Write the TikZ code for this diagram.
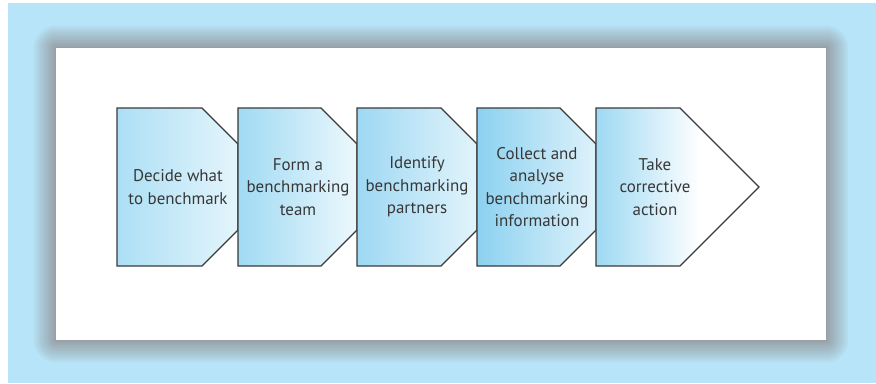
\documentclass[tikz,border=0pt]{standalone}
\usepackage{fontspec}
\setmainfont{PT Sans}
\definecolor{bgblue}{RGB}{183,228,248}
\definecolor{shadowgray}{RGB}{148,148,152}
\definecolor{edge}{RGB}{58,58,58}
\definecolor{txt}{RGB}{55,55,55}
\definecolor{cA}{RGB}{172,223,245}
\definecolor{cAr}{RGB}{228,245,252}
\definecolor{cB}{RGB}{160,218,243}
\definecolor{cBr}{RGB}{236,248,253}
\definecolor{cC}{RGB}{158,216,243}
\definecolor{cCr}{RGB}{226,244,251}
\definecolor{cD}{RGB}{140,209,240}
\definecolor{cDr}{RGB}{222,242,251}
\definecolor{cE}{RGB}{158,217,243}
\pgfdeclarehorizontalshading{lastshade}{100bp}{color(0bp)=(cE); color(25bp)=(cE); color(57bp)=(white); color(100bp)=(white)}
\tikzset{
  stepshape/.style={draw=edge, line width=1.3bp, line join=miter},
  steptext/.style={text=txt, align=center, font=\fontsize{17}{22.5}\selectfont, inner sep=0pt},
}
\begin{document}
\begin{tikzpicture}[x=1bp, y=-1bp]
\useasboundingbox (0,0) rectangle (876,383);
\fill[white] (0,0) rectangle (876,383);
\fill[bgblue] (8,3) rectangle (876,383);
% soft shadow
\foreach \i in {1,...,20} {
  \pgfmathsetmacro{\e}{\i*\i/18}
  \fill[shadowgray, opacity=0.085, rounded corners=\e bp] (56-\e,48-\e) rectangle (826+\e,340+\e);
}
\fill[white] (56,48) rectangle (826,340);
% steps
\draw[stepshape, left color=cA, right color=cAr] (117,108) -- (202,108) -- (238,144) -- (238,230) -- (202,266) -- (117,266) -- cycle;
\draw[stepshape, left color=cB, right color=cBr] (238,108) -- (321,108) -- (357,144) -- (357,230) -- (321,266) -- (238,266) -- cycle;
\draw[stepshape, left color=cC, right color=cCr] (357,108) -- (441,108) -- (477,144) -- (477,230) -- (441,266) -- (357,266) -- cycle;
\draw[stepshape, left color=cD, right color=cDr] (477,108) -- (560,108) -- (596,144) -- (596,230) -- (560,266) -- (477,266) -- cycle;
\draw[stepshape, shading=lastshade] (596,108) -- (680,108) -- (759,187) -- (680,266) -- (596,266) -- cycle;
% texts
\node[steptext] (s1) at (178,187) {Decide what\\to benchmark};
\node[steptext] (s2) at (298,187) {Form a\\benchmarking\\team};
\node[steptext] (s3) at (417,187) {Identify\\benchmarking\\partners};
\node[steptext] (s4) at (537,187) {Collect and\\analyse\\benchmarking\\information};
\node[steptext] (s5) at (655,187) {Take\\corrective\\action};
\end{tikzpicture}
\end{document}
